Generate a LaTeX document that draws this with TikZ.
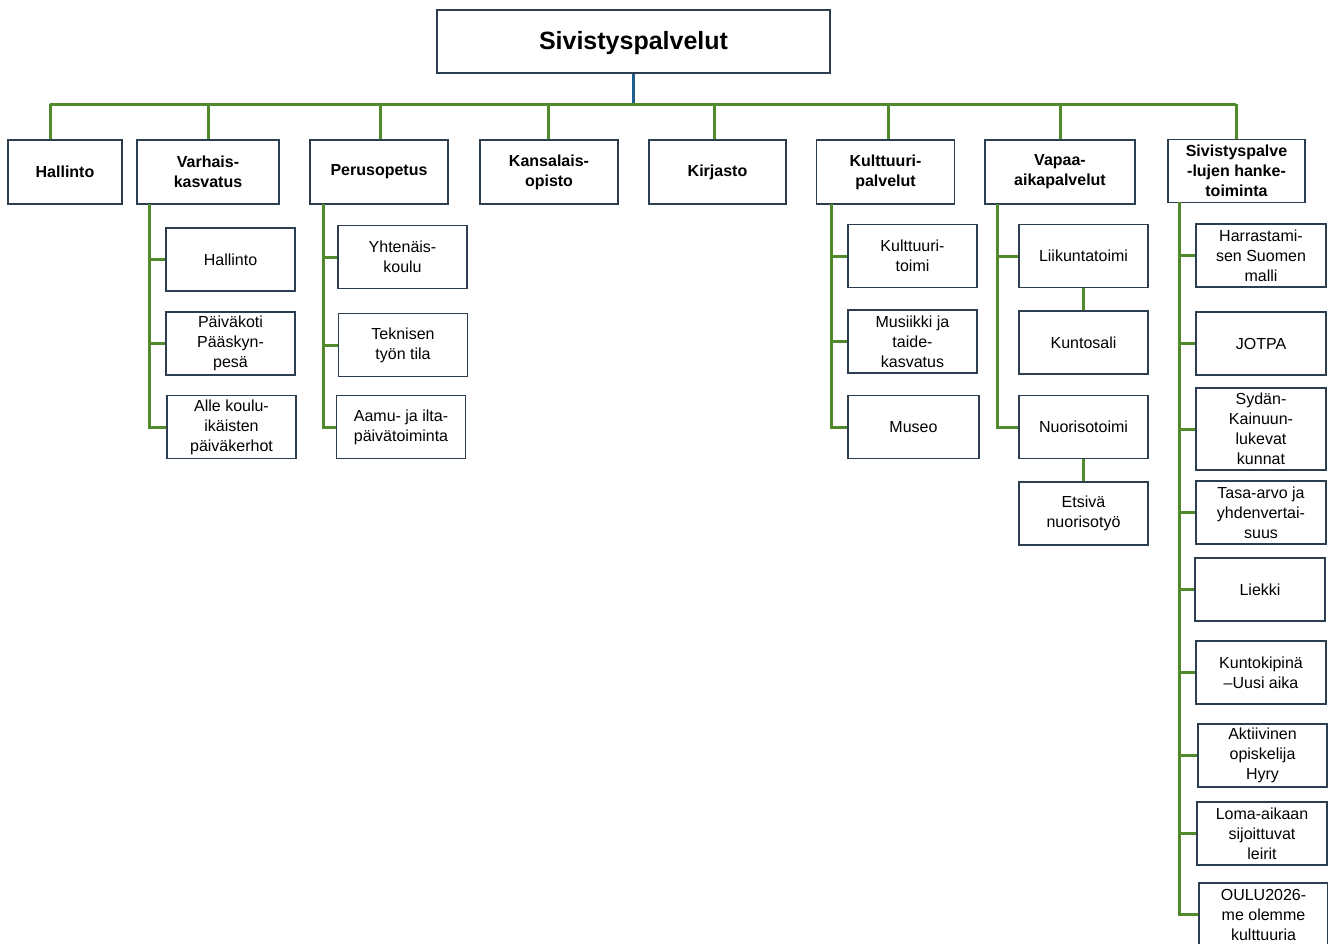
\documentclass[tikz,border=0pt]{standalone}
\usepackage{fontspec}
\setmainfont{Liberation Sans}
\usepackage{tikz}
\usetikzlibrary{calc, positioning}
\definecolor{boxline}{RGB}{44,62,80}
\definecolor{orggreen}{RGB}{80,138,45}
\definecolor{orgblue}{RGB}{31,95,140}
\tikzstyle{titlebox} = [rectangle, draw=boxline, line width=1.5pt, minimum width=393pt, minimum height=63pt, text depth=2pt, font=\fontsize{25}{29}\selectfont\bfseries, text centered]
\tikzstyle{head} = [rectangle, draw=boxline, line width=1.5pt, minimum height=64pt, inner sep=1pt, align=center, font=\fontsize{16}{20}\selectfont\bfseries]
\tikzstyle{sub} = [rectangle, draw=boxline, line width=1.5pt, minimum width=129pt, minimum height=63pt, inner sep=1pt, align=center, font=\fontsize{16}{20}\selectfont]
\tikzstyle{link} = [draw=orggreen, line width=3pt]
\tikzstyle{toplink} = [draw=orgblue, line width=3pt]

\begin{document}
\begin{tikzpicture}[x=1pt, y=-1pt]
	\useasboundingbox (0,0) rectangle (1328,943);
	% top
	\node (Sivistys) [titlebox] at (633.5,41.5) {Sivistyspalvelut};
	\coordinate (BusL) at (50,104);
	\coordinate (BusR) at (1236,104);
	% first level
	\node (Hallinto) [head, minimum width=114pt] at (65,172) {Hallinto};
	\node (Varhais) [head, minimum width=142pt] at (208,172) {Varhais-\\kasvatus};
	\node (Perus) [head, minimum width=138pt] at (379,172) {Perusopetus};
	\node (Kansalais) [head, minimum width=138pt] at (549,172) {Kansalais-\\opisto};
	\node (Kirjasto) [head, minimum width=137pt] at (717.5,172) {Kirjasto};
	\node (Kulttuuri) [head, minimum width=138pt] at (885.5,172) {Kulttuuri-\\palvelut};
	\node (Vapaa) [head, minimum width=150pt] at (1060,172) {Vapaa-\\aikapalvelut};
	\node (Hanke) [head, minimum width=137pt, minimum height=63pt] at (1236.5,171) {Sivistyspalve\\-lujen hanke-\\toiminta};
	% Varhaiskasvatus
	\node (VkHallinto) [sub] at (230.5,259.5) {Hallinto};
	\node (VkPaivakoti) [sub] at (230.5,343.5) {Päiväkoti\\Pääskyn-\\pesä};
	\node (VkKerhot) [sub] at (231.5,427) {Alle koulu-\\ikäisten\\päiväkerhot};
	% Perusopetus
	\node (PoKoulu) [sub] at (402.5,257) {Yhtenäis-\\koulu};
	\node (PoTekninen) [sub] at (403,345) {Teknisen\\työn tila};
	\node (PoAamu) [sub] at (401,427) {Aamu- ja ilta-\\päivätoiminta};
	% Kulttuuripalvelut
	\node (KpToimi) [sub] at (912.5,256) {Kulttuuri-\\toimi};
	\node (KpMusiikki) [sub] at (912.5,341.5) {Musiikki ja\\taide-\\kasvatus};
	\node (KpMuseo) [sub, minimum width=131pt] at (913.5,427) {Museo};
	% Vapaa-aikapalvelut
	\node (VaLiikunta) [sub] at (1083.5,256) {Liikuntatoimi};
	\node (VaKuntosali) [sub] at (1083.5,342.5) {Kuntosali};
	\node (VaNuoriso) [sub] at (1083.5,427) {Nuorisotoimi};
	\node (VaEtsiva) [sub] at (1083.5,513.5) {Etsivä\\nuorisotyö};
	% Hanketoiminta
	\node (HaHarrastus) [sub, minimum width=130pt] at (1261,255.5) {Harrastami-\\sen Suomen\\malli};
	\node (HaJotpa) [sub, minimum width=130pt] at (1261,343.5) {JOTPA};
	\node (HaSydan) [sub, minimum width=130pt, minimum height=82pt] at (1261,429) {Sydän-\\Kainuun-\\lukevat\\kunnat};
	\node (HaTasa) [sub, minimum width=130pt] at (1261,512.5) {Tasa-arvo ja\\yhdenvertai-\\suus};
	\node (HaLiekki) [sub, minimum width=130pt] at (1260,589.5) {Liekki};
	\node (HaKipina) [sub, minimum width=130pt] at (1261,672.5) {Kuntokipinä\\–Uusi aika};
	\node (HaHyry) [sub] at (1262.5,755.5) {Aktiivinen\\opiskelija\\Hyry};
	\node (HaLeirit) [sub, minimum width=130pt] at (1262,833.5) {Loma-aikaan\\sijoittuvat\\leirit};
	\node (HaOulu) [sub] at (1263.5,914.5) {OULU2026-\\me olemme\\kulttuuria};
	% connectors
	\draw [toplink] (Sivistys.south) -- (Sivistys.south |- BusL);
	\draw [link] (BusL) -- (BusR);
	\foreach \x/\n in {50/Hallinto, 208/Varhais, 380/Perus, 548/Kansalais, 714/Kirjasto, 888/Kulttuuri, 1060/Vapaa, 1236/Hanke}
		\draw [link] (\x,104) -- (\x,104 |- \n.north);
	\coordinate (VkSpine) at (149,204);
	\coordinate (PoSpine) at (323,204);
	\coordinate (KpSpine) at (831,204);
	\coordinate (VaSpine) at (997,204);
	\coordinate (HaSpine) at (1179,202);
	\draw [link] (VkSpine) |- (VkKerhot.west);
	\foreach \n in {VkHallinto, VkPaivakoti}
		\draw [link] (VkSpine |- \n.west) -- (\n.west);
	\draw [link] (PoSpine) |- (PoAamu.west);
	\foreach \n in {PoKoulu, PoTekninen}
		\draw [link] (PoSpine |- \n.west) -- (\n.west);
	\draw [link] (KpSpine) |- (KpMuseo.west);
	\foreach \n in {KpToimi, KpMusiikki}
		\draw [link] (KpSpine |- \n.west) -- (\n.west);
	\draw [link] (VaSpine) |- (VaNuoriso.west);
	\draw [link] (VaSpine |- VaLiikunta.west) -- (VaLiikunta.west);
	\draw [link] (VaLiikunta.south) -- (VaKuntosali.north);
	\draw [link] (VaNuoriso.south) -- (VaEtsiva.north);
	\draw [link] (HaSpine) |- (HaOulu.west);
	\foreach \n in {HaHarrastus, HaJotpa, HaSydan, HaTasa, HaLiekki, HaKipina, HaHyry, HaLeirit}
		\draw [link] (HaSpine |- \n.west) -- (\n.west);
\end{tikzpicture}
\end{document}
